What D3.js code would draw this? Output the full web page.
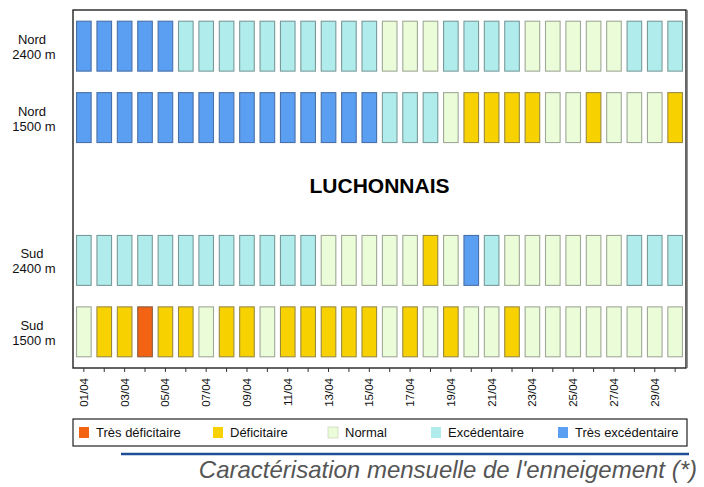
<!DOCTYPE html>
<html>
<head>
<meta charset="utf-8">
<script src="https://cdn.jsdelivr.net/npm/d3@7"></script>
<style>
  html, body { margin: 0; padding: 0; background: #fff; }
  svg { display: block; font-family: "Liberation Sans", Arial, sans-serif; }
</style>
</head>
<body>
<svg id="chart" width="704" height="487"></svg>
<script>
// ---- data ----
const days = ["01/04","02/04","03/04","04/04","05/04","06/04","07/04","08/04","09/04","10/04",
              "11/04","12/04","13/04","14/04","15/04","16/04","17/04","18/04","19/04","20/04",
              "21/04","22/04","23/04","24/04","25/04","26/04","27/04","28/04","29/04","30/04"];
const categories = ["Très déficitaire","Déficitaire","Normal","Excédentaire","Très excédentaire"];
const categoryColors = ["#f26414","#f8d200","#eafdd8","#b0ecec","#5a9ff2"];
const categoryStrokes = ["#8a5a3a","#9a8a40","#a0a898","#7a9a9a","#4a70a8"];
const rowKeys = ["nord2400","nord1500","title","sud2400","sud1500"];
const rowLabels = [["Nord","2400 m"],["Nord","1500 m"],null,["Sud","2400 m"],["Sud","1500 m"]];
// category codes: 0 Très déficitaire, 1 Déficitaire, 2 Normal, 3 Excédentaire, 4 Très excédentaire
const nord2400 = [4,4,4,4,4,3,3,3,3,3,3,3,3,3,3,2,2,2,3,3,3,3,2,2,2,2,2,3,3,3];
const nord1500 = [4,4,4,4,4,4,4,4,4,4,4,4,4,4,4,3,3,3,2,1,1,1,1,2,2,1,2,2,2,1];
const sud2400  = [3,3,3,3,3,3,3,3,3,3,3,3,2,2,2,2,2,1,2,4,3,2,2,2,2,2,2,3,3,3];
const sud1500  = [2,1,1,0,1,1,2,1,1,2,1,1,1,1,1,2,1,2,1,2,2,1,2,2,2,2,2,2,2,2];
const massifName = "LUCHONNAIS";
const chartTitle = "Caractérisation mensuelle de l'enneigement (*)";

const series = { nord2400, nord1500, sud2400, sud1500 };

// ---- layout ----
const svg = d3.select("#chart");
const frame = { left: 73, right: 686, top: 10, bottom: 368 };

const x = d3.scaleBand().domain(days).range([frame.left, frame.right])
  .paddingInner(0.235).paddingOuter(0.15);
const y = d3.scaleBand().domain(rowKeys).range([frame.top, frame.bottom])
  .paddingInner(0.287).paddingOuter(0.15);

// bars
Object.keys(series).forEach(key => {
  const g = svg.append("g");
  g.selectAll("rect").data(series[key]).join("rect")
    .attr("x", (d, i) => x(days[i]) + 0.5)
    .attr("y", y(key) + 0.5)
    .attr("width", x.bandwidth() - 1)
    .attr("height", y.bandwidth() - 1)
    .attr("fill", d => categoryColors[d])
    .attr("stroke", d => categoryStrokes[d])
    .attr("stroke-width", 1.1);
});

// frame
svg.append("rect")
  .attr("x", frame.left).attr("y", frame.top)
  .attr("width", frame.right - frame.left).attr("height", frame.bottom - frame.top)
  .attr("fill", "none").attr("stroke", "#222").attr("stroke-width", 1.4);
svg.append("line")
  .attr("x1", frame.right + 1.2).attr("x2", frame.right + 1.2)
  .attr("y1", frame.top).attr("y2", frame.bottom)
  .attr("stroke", "#777").attr("stroke-width", 1.2);

// massif name
svg.append("text")
  .attr("x", (frame.left + frame.right) / 2)
  .attr("y", y("title") + y.bandwidth() / 2 + 4)
  .attr("text-anchor", "middle")
  .attr("font-size", 21).attr("font-weight", "bold").attr("fill", "#000")
  .text(massifName);

// row labels
rowKeys.forEach((k, i) => {
  if (!rowLabels[i]) return;
  const cy = y(k) + y.bandwidth() / 2;
  const t = svg.append("text").attr("text-anchor", "middle").attr("font-size", 13).attr("fill", "#111");
  t.append("tspan").attr("x", 32).attr("y", cy - 2).text(rowLabels[i][0]);
  t.append("tspan").attr("x", 34).attr("y", cy + 13).text(rowLabels[i][1]);
});

// x axis
const xAxis = d3.axisBottom(x)
  .tickSize(4)
  .tickFormat((d, i) => i % 2 === 0 ? d : "");
const ax = svg.append("g")
  .attr("transform", `translate(0,${frame.bottom})`)
  .attr("font-size", 11.5)
  .attr("font-family", "'Liberation Sans', Arial, sans-serif")
  .call(xAxis);
ax.attr("font-size", 11.5).attr("font-family", "'Liberation Sans', Arial, sans-serif");
ax.select(".domain").remove();
ax.selectAll(".tick line").attr("stroke", "#333");
ax.selectAll(".tick text")
  .attr("font-size", 11.5).attr("fill", "#111")
  .attr("transform", "rotate(-90)")
  .attr("text-anchor", "end")
  .attr("x", -10).attr("y", 0).attr("dy", "0.35em");

// legend
const legend = { left: 73, right: 687, top: 419, bottom: 446 };
svg.append("rect")
  .attr("x", legend.left).attr("y", legend.top)
  .attr("width", legend.right - legend.left).attr("height", legend.bottom - legend.top)
  .attr("fill", "#fff").attr("stroke", "#222").attr("stroke-width", 1.2);
const legendX = [79, 213, 328, 431, 558];
const lg = svg.append("g").selectAll("g").data(categories).join("g")
  .attr("transform", (d, i) => `translate(${legendX[i]},${legend.top + 8})`);
lg.append("rect").attr("width", 10).attr("height", 11)
  .attr("fill", (d, i) => categoryColors[i])
  .attr("stroke", (d, i) => i === 2 ? "#cfd8c4" : "none").attr("stroke-width", 0.8);
lg.append("text").attr("x", 17).attr("y", 10)
  .attr("font-size", 13).attr("fill", "#111").text(d => d);

// title line + title
svg.append("line").attr("x1", 121).attr("x2", 689).attr("y1", 454).attr("y2", 454)
  .attr("stroke", "#1f4e96").attr("stroke-width", 2.5);
svg.append("text")
  .attr("x", 697).attr("y", 478)
  .attr("text-anchor", "end")
  .attr("font-size", 24).attr("font-style", "italic").attr("fill", "#555")
  .text(chartTitle);
</script>
</body>
</html>
